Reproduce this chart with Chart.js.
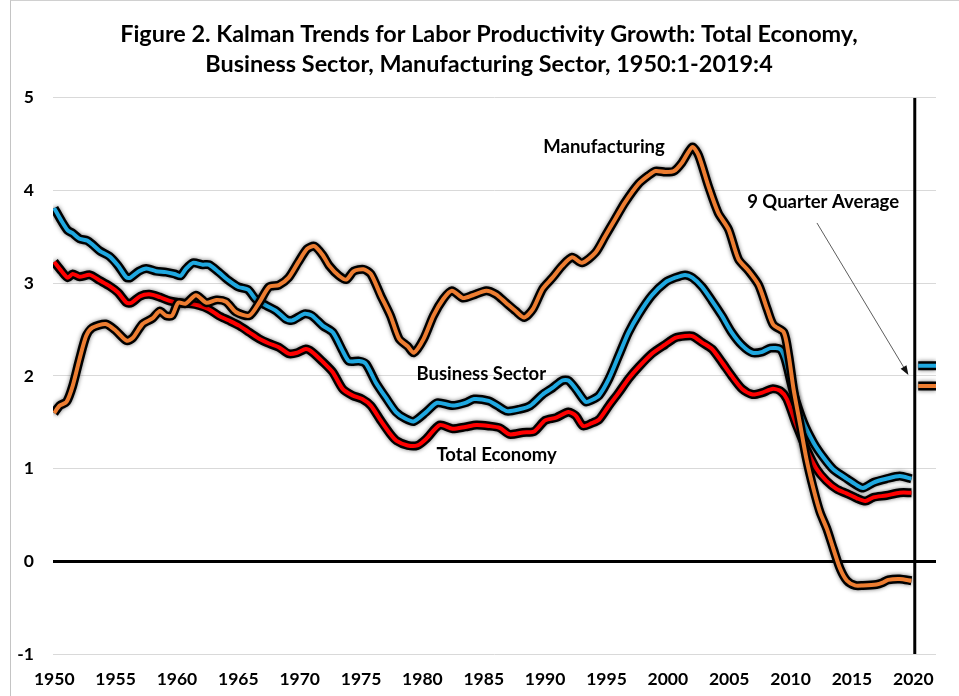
<!DOCTYPE html>
<html>
<head>
<meta charset="utf-8">
<title>Kalman Trends for Labor Productivity Growth</title>
<script src="https://cdn.jsdelivr.net/npm/chart.js@4.4.1/dist/chart.umd.min.js"></script>
<style>
  html, body { margin: 0; padding: 0; background: #fff; }
  #wrap { position: relative; width: 959px; height: 696px; }
  #frame { position: absolute; left: 10px; top: 0; width: 949px; height: 696px;
           border-left: 1px solid #c4c4c4; border-top: 1px solid #d0d0d0; pointer-events: none; }
</style>
</head>
<body>
<div id="wrap">
  <canvas id="kalmanChart"></canvas>
  <div id="frame"></div>
</div>
<script>
// values (x = year, quarterly trend in %)
const businessYears = [1950.0,1950.6,1951.1,1951.5,1952.06,1952.7,1953.1,1953.7,1954.5,1955.2,1955.9,1956.2,1956.9,1957.5,1958.3,1959.1,1959.8,1960.3,1960.7,1961.3,1962.1,1962.6,1963.4,1964.2,1965.0,1965.8,1966.4,1967.25,1968.1,1968.9,1969.4,1970.4,1971.0,1971.9,1972.7,1973.5,1974.0,1974.85,1975.4,1976.2,1977.0,1977.85,1978.6,1979.3,1980.3,1981.2,1982.45,1983.5,1984.2,1985.4,1986.1,1986.9,1987.9,1988.8,1989.8,1990.6,1991.4,1991.9,1992.5,1993.3,1993.8,1994.4,1995.2,1996.0,1996.8,1997.65,1998.7,1999.8,2000.6,2001.4,2002.0,2002.8,2003.6,2004.4,2005.2,2006.05,2006.9,2007.7,2008.35,2009.15,2009.56,2010.24,2011.05,2011.87,2012.68,2013.5,2014.6,2015.4,2015.9,2016.75,2017.8,2018.9,2019.85];
const businessValues = [3.81,3.67,3.57,3.54,3.48,3.46,3.42,3.35,3.29,3.19,3.06,3.06,3.13,3.16,3.13,3.12,3.10,3.08,3.15,3.22,3.20,3.20,3.12,3.03,2.96,2.93,2.83,2.76,2.70,2.61,2.60,2.67,2.65,2.54,2.47,2.27,2.16,2.16,2.13,1.93,1.77,1.61,1.54,1.51,1.61,1.71,1.68,1.71,1.75,1.73,1.68,1.62,1.64,1.68,1.80,1.87,1.95,1.95,1.86,1.72,1.74,1.79,1.97,2.22,2.47,2.67,2.87,3.01,3.06,3.09,3.06,2.96,2.81,2.65,2.47,2.33,2.25,2.26,2.30,2.29,2.18,1.82,1.50,1.28,1.12,0.99,0.89,0.82,0.79,0.85,0.89,0.92,0.89];

const totalYears = [1950.0,1950.6,1951.1,1951.5,1952.06,1952.9,1953.7,1954.5,1955.2,1955.9,1956.3,1957.0,1957.75,1958.6,1959.4,1960.2,1961.0,1961.8,1962.6,1963.4,1964.2,1965.1,1965.9,1966.7,1967.5,1968.3,1969.1,1969.8,1970.5,1971.0,1971.9,1972.7,1973.5,1974.3,1975.1,1975.8,1976.6,1977.4,1977.9,1978.8,1979.6,1980.3,1981.4,1982.45,1983.5,1984.4,1985.4,1986.3,1987.1,1988.2,1989.1,1990.0,1990.9,1991.9,1992.5,1993.1,1993.8,1994.4,1995.2,1996.0,1996.8,1997.65,1998.7,1999.8,2000.6,2001.4,2002.0,2002.8,2003.6,2004.4,2005.2,2006.05,2006.9,2007.7,2008.5,2009.15,2009.7,2010.5,2011.3,2012.1,2012.9,2013.75,2014.6,2015.4,2016.1,2016.75,2017.8,2018.9,2019.85];
const totalValues = [3.23,3.13,3.06,3.10,3.07,3.09,3.03,2.97,2.90,2.79,2.79,2.86,2.88,2.85,2.81,2.79,2.78,2.76,2.72,2.65,2.60,2.54,2.47,2.40,2.35,2.31,2.24,2.25,2.29,2.26,2.15,2.04,1.86,1.79,1.75,1.68,1.52,1.37,1.30,1.25,1.25,1.32,1.47,1.43,1.45,1.47,1.46,1.44,1.37,1.39,1.40,1.52,1.55,1.61,1.57,1.46,1.49,1.53,1.68,1.82,1.97,2.10,2.24,2.34,2.41,2.43,2.43,2.36,2.29,2.15,2.00,1.86,1.80,1.82,1.86,1.84,1.75,1.46,1.21,1.00,0.87,0.78,0.73,0.68,0.65,0.69,0.71,0.74,0.74];

const mfgYears = [1950.0,1950.45,1951.0,1951.5,1952.06,1952.6,1953.1,1954.2,1955.0,1955.9,1956.4,1957.2,1958.0,1958.6,1959.1,1959.6,1960.1,1960.7,1961.55,1962.4,1963.2,1964.0,1964.8,1965.9,1966.7,1967.5,1968.3,1969.1,1969.9,1970.6,1971.2,1971.9,1972.4,1973.2,1973.8,1974.4,1975.2,1975.8,1976.6,1977.4,1978.1,1978.8,1979.3,1980.1,1980.9,1981.7,1982.4,1983.3,1984.1,1985.2,1986.0,1986.8,1987.6,1988.3,1989.0,1989.8,1990.6,1991.4,1992.2,1993.0,1994.1,1994.9,1995.7,1996.5,1997.6,1998.4,1999.0,1999.8,2000.5,2001.15,2002.0,2002.5,2003.3,2004.1,2004.95,2005.75,2006.6,2007.4,2008.1,2008.6,2009.45,2009.85,2010.24,2010.8,2011.3,2011.87,2012.4,2012.96,2013.5,2014.04,2014.6,2015.25,2015.9,2017.0,2017.5,2017.95,2018.9,2019.85];
const mfgValues = [1.60,1.68,1.72,1.89,2.18,2.43,2.52,2.56,2.49,2.38,2.41,2.56,2.62,2.70,2.65,2.65,2.79,2.78,2.87,2.79,2.82,2.80,2.69,2.65,2.79,2.96,2.98,3.06,3.23,3.37,3.40,3.30,3.19,3.08,3.04,3.13,3.15,3.10,2.87,2.65,2.40,2.32,2.25,2.40,2.65,2.83,2.92,2.84,2.87,2.92,2.88,2.79,2.70,2.63,2.72,2.94,3.06,3.19,3.28,3.22,3.33,3.51,3.69,3.87,4.07,4.16,4.21,4.20,4.21,4.30,4.47,4.38,4.05,3.76,3.58,3.26,3.13,2.98,2.72,2.55,2.47,2.22,1.86,1.46,1.10,0.78,0.53,0.35,0.13,-0.08,-0.21,-0.26,-0.26,-0.25,-0.23,-0.20,-0.19,-0.21];

// 9 quarter averages shown past the end of the sample
const avgYears = [2020.4, 2021.85];
const businessAvg = 2.11;
const mfgAvg = 1.89;
const sampleEndYear = 2020.12;

const xTicks = [1950,1955,1960,1965,1970,1975,1980,1985,1990,1995,2000,2005,2010,2015,2020];
const yTicks = [-1,0,1,2,3,4,5];

const FONT = 'Lato, "Open Sans", sans-serif';
const BLUE = '#1fa8e0', RED = '#ff0000', ORANGE = '#ed7d31';

function pts(xs, ys) { return xs.map((x, i) => ({ x: x, y: ys[i] })); }

function series(data, color, order) {
  return [
    { data: data, borderColor: color, borderWidth: 4, order: order },
    { data: data, borderColor: '#000', borderWidth: 9, order: order + 1, outline: true }
  ];
}

const datasets = [
  ...series(pts(mfgYears, mfgValues), ORANGE, 0),
  ...series(pts(avgYears, [mfgAvg, mfgAvg]), ORANGE, 0),
  ...series(pts(totalYears, totalValues), RED, 2),
  ...series(pts(businessYears, businessValues), BLUE, 4),
  ...series(pts(avgYears, [businessAvg, businessAvg]), BLUE, 4),
  { data: [{ x: sampleEndYear, y: yTicks[0] }, { x: sampleEndYear, y: yTicks[yTicks.length - 1] }],
    borderColor: '#000', borderWidth: 3, order: 6 }
];

// labels placed in data coordinates
const notes = [
  { text: 'Manufacturing', x: 1994.8, y: 4.47 },
  { text: 'Business Sector', x: 1984.8, y: 2.02 },
  { text: 'Total Economy', x: 1986.05, y: 1.15 },
  { text: '9 Quarter Average', x: 2012.65, y: 3.88 }
];
const arrow = { from: [2012.15, 3.65], to: [2019.6, 2.01] };

const shadowPlugin = {
  id: 'outlineShadow',
  beforeDatasetDraw(chart, args) {
    const ds = chart.data.datasets[args.index];
    if (ds.outline) {
      chart.ctx.save();
      chart.ctx.shadowColor = 'rgba(0,0,0,0.55)';
      chart.ctx.shadowBlur = 4;
    }
  },
  afterDatasetDraw(chart, args) {
    if (chart.data.datasets[args.index].outline) chart.ctx.restore();
  }
};

// the source title is centred a little right of the canvas middle
const titleShift = {
  id: 'titleShift',
  afterLayout(chart) {
    if (chart.titleBlock) chart.titleBlock.left = 42;
  }
};

const notesPlugin = {
  id: 'notes',
  afterDraw(chart) {
    const ctx = chart.ctx, sx = chart.scales.x, sy = chart.scales.y;
    ctx.save();
    ctx.fillStyle = '#000';
    ctx.font = 'bold 18.5px ' + FONT;
    ctx.textAlign = 'center';
    ctx.textBaseline = 'middle';
    notes.forEach(n => ctx.fillText(n.text, sx.getPixelForValue(n.x), sy.getPixelForValue(n.y)));

    const x1 = sx.getPixelForValue(arrow.from[0]), y1 = sy.getPixelForValue(arrow.from[1]);
    const x2 = sx.getPixelForValue(arrow.to[0]), y2 = sy.getPixelForValue(arrow.to[1]);
    const a = Math.atan2(y2 - y1, x2 - x1);
    ctx.strokeStyle = '#333';
    ctx.lineWidth = 0.8;
    ctx.beginPath();
    ctx.moveTo(x1, y1);
    ctx.lineTo(x2 - 8 * Math.cos(a), y2 - 8 * Math.sin(a));
    ctx.stroke();
    ctx.beginPath();
    ctx.moveTo(x2, y2);
    ctx.lineTo(x2 - 10 * Math.cos(a - 0.35), y2 - 10 * Math.sin(a - 0.35));
    ctx.lineTo(x2 - 10 * Math.cos(a + 0.35), y2 - 10 * Math.sin(a + 0.35));
    ctx.closePath();
    ctx.fillStyle = '#111';
    ctx.fill();
    ctx.restore();
  }
};

new Chart(document.getElementById('kalmanChart'), {
  type: 'line',
  data: { datasets: datasets },
  options: {
    responsive: true,
    maintainAspectRatio: false,
    animation: false,
    elements: {
      point: { radius: 0, hoverRadius: 0 },
      line: { tension: 0.25, borderCapStyle: 'butt', borderJoinStyle: 'round', fill: false }
    },
    layout: { padding: { left: 0, right: 23, top: 0, bottom: 0 } },
    plugins: {
      legend: { display: false },
      tooltip: { enabled: false },
      title: {
        display: true,
        text: ['Figure 2. Kalman Trends for Labor Productivity Growth: Total Economy,',
               'Business Sector, Manufacturing Sector, 1950:1-2019:4'],
        color: '#000',
        font: { family: FONT, size: 23.4, weight: 'bold', lineHeight: 1.3 },
        padding: { top: 19, bottom: 18 }
      }
    },
    scales: {
      x: {
        type: 'linear',
        min: 1949.9,
        max: 2021.85,
        afterBuildTicks(scale) { scale.ticks = xTicks.map(v => ({ value: v })); },
        afterFit(scale) { scale.height = 42; },
        grid: { display: false, drawTicks: false },
        border: { display: false },
        ticks: {
          padding: 15,
          color: '#000',
          maxRotation: 0,
          autoSkip: false,
          font: { family: FONT, size: 17.5, weight: 'bold' },
          callback: v => String(v)
        }
      },
      y: {
        min: -1,
        max: 5,
        afterBuildTicks(scale) { scale.ticks = yTicks.map(v => ({ value: v })); },
        afterFit(scale) { scale.width = 53; },
        grid: {
          drawTicks: false,
          color: c => c.tick && c.tick.value === 0 ? '#000' : '#d9d9d9',
          lineWidth: c => c.tick && c.tick.value === 0 ? 3 : 1
        },
        border: { display: false },
        ticks: {
          padding: 19,
          color: '#000',
          font: { family: FONT, size: 17.5, weight: 'bold' }
        }
      }
    }
  },
  plugins: [shadowPlugin, titleShift, notesPlugin]
});
</script>
</body>
</html>
